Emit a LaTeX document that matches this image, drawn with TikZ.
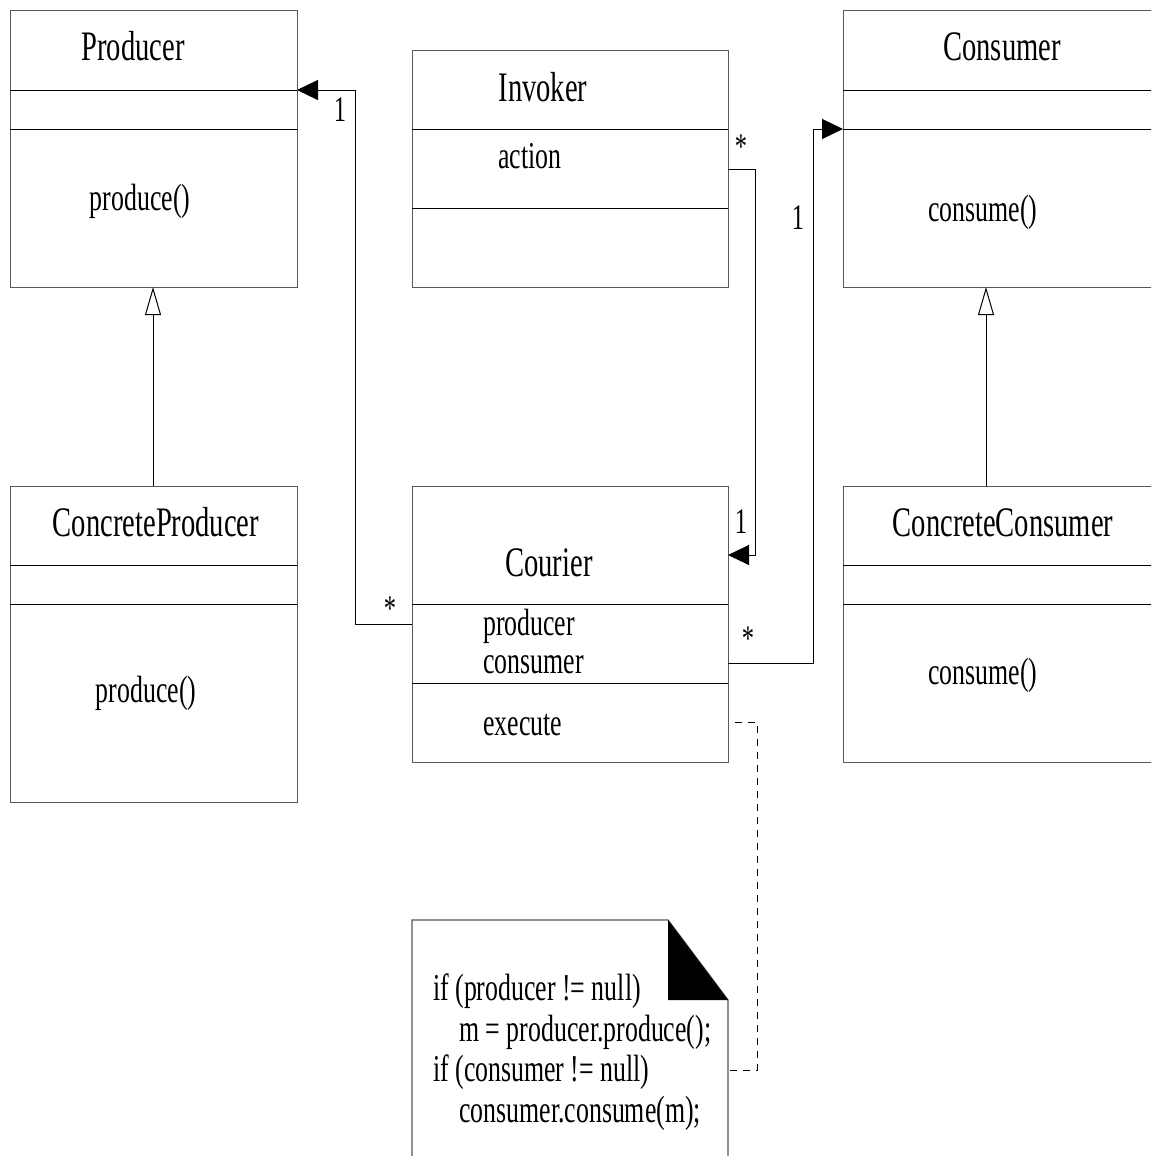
\documentclass[tikz,border=0pt]{standalone}
\usepackage{fontspec}
\setmainfont[FakeStretch=0.68]{Liberation Serif}
\usetikzlibrary{arrows.meta}
\begin{document}
\begin{tikzpicture}[x=1pt,y=-1pt,
  classbox/.style={draw=black!65,line width=1.3pt,anchor=north west,inner sep=0pt},
  divider/.style={draw=black,line width=1pt},
  ttxt/.style={anchor=base,inner sep=0pt,font=\fontsize{42}{45}\selectfont},
  txt/.style={anchor=base,inner sep=0pt,font=\fontsize{38}{41}\selectfont},
  ltxt/.style={anchor=base west,inner sep=0pt,font=\fontsize{38}{41}\selectfont},
  mult/.style={anchor=center,inner sep=0pt,font=\fontsize{36}{40}\selectfont},
  assoc/.style={draw=black,line width=1pt,-{Triangle[length=21pt,width=20pt]}},
  inherit/.style={draw=black,line width=1pt,-{Triangle[open,length=28pt,width=16pt,line width=1pt]}},
  anchorline/.style={draw=black,line width=1pt,dash pattern=on 7pt off 6pt}]
\useasboundingbox (0,0) rectangle (1151,1156);
\clip (0,0) rectangle (1151,1156);
\fill[white] (0,0) rectangle (1151,1156);

% Producer
\node[classbox,minimum width=287pt,minimum height=277pt] (producer) at (10,10) {};
\draw[divider] (10,90) -- (297,90);
\draw[divider] (10,129) -- (297,129);
\node[ttxt] (producerT) at (133,61) {Producer};
\node[txt] (producerM) at (140,210) {produce()};

% Invoker
\node[classbox,minimum width=316pt,minimum height=237pt] (invoker) at (412,50) {};
\draw[divider] (412,129) -- (728,129);
\draw[divider] (412,208) -- (728,208);
\node[ttxt] (invokerT) at (543,101) {Invoker};
\node[ltxt] (invokerA) at (498,168) {action};

% Consumer (cut at right edge)
\node[classbox,minimum width=330pt,minimum height=277pt] (consumer) at (843,10) {};
\draw[divider] (843,90) -- (1160,90);
\draw[divider] (843,129) -- (1160,129);
\node[ttxt] (consumerT) at (1002,61) {Consumer};
\node[txt] (consumerM) at (983,221) {consume()};

% ConcreteProducer
\node[classbox,minimum width=287pt,minimum height=316pt] (cproducer) at (10,486) {};
\draw[divider] (10,565) -- (297,565);
\draw[divider] (10,604) -- (297,604);
\node[ttxt] (cproducerT) at (156,536) {ConcreteProducer};
\node[txt] (cproducerM) at (146,702) {produce()};

% Courier
\node[classbox,minimum width=316pt,minimum height=276pt] (courier) at (412,486) {};
\draw[divider] (412,604) -- (728,604);
\draw[divider] (412,683) -- (728,683);
\node[ttxt] (courierT) at (549,576) {Courier};
\node[ltxt] (courierA1) at (483,635) {producer};
\node[ltxt] (courierA2) at (483,673) {consumer};
\node[ltxt] (courierM) at (483,735) {execute};

% ConcreteConsumer (cut at right edge)
\node[classbox,minimum width=330pt,minimum height=276pt] (cconsumer) at (843,486) {};
\draw[divider] (843,565) -- (1160,565);
\draw[divider] (843,604) -- (1160,604);
\node[ttxt] (cconsumerT) at (1003,536) {ConcreteConsumer};
\node[txt] (cconsumerM) at (983,684) {consume()};

% Note
\draw[draw=black!65,line width=1.3pt,fill=white] (412,1170) -- (412,920) -- (668,920) -- (728,1000) -- (728,1170);
\fill[black] (668,920) -- (668,1000) -- (728,1000) -- cycle;
\node[ltxt] (n1) at (433,1000) {if (producer != null)};
\node[ltxt] (n2) at (459,1041) {m = producer.produce();};
\node[ltxt] (n3) at (433,1081) {if (consumer != null)};
\node[ltxt] (n4) at (459,1122) {consumer.consume(m);};
\coordinate (note) at (728,1070);

% connector end points
\coordinate (prodA) at (297,90);
\coordinate (courP) at (412,624);
\coordinate (invA) at (728,169);
\coordinate (courIn) at (728,555);
\coordinate (courC) at (728,663);
\coordinate (consA) at (843,129);
\coordinate (courE) at (735,722);
\coordinate (prodB) at (153,287);
\coordinate (cprodT) at (153,486);
\coordinate (consB) at (986,287);
\coordinate (cconsT) at (986,486);

% inheritance
\draw[inherit] (cprodT) -- (prodB);
\draw[inherit] (cconsT) -- (consB);

% associations
\draw[assoc] (courP) -- (355,624) -- (355,90) -- (prodA);
\draw[assoc] (invA) -- (755,169) -- (755,555) -- (courIn);
\draw[assoc] (courC) -- (813,663) -- (813,129) -- (consA);
\draw[anchorline] (courE) -- (757,722) -- (757,1070) -- (note);

% multiplicities
\node[mult] (m1) at (340,110) {1};
\node[mult] (m2) at (390,609) {*};
\node[mult] (m3) at (741,147) {*};
\node[mult] (m4) at (741,522) {1};
\node[mult] (m5) at (798,218) {1};
\node[mult] (m6) at (748,639) {*};
\end{tikzpicture}
\end{document}
